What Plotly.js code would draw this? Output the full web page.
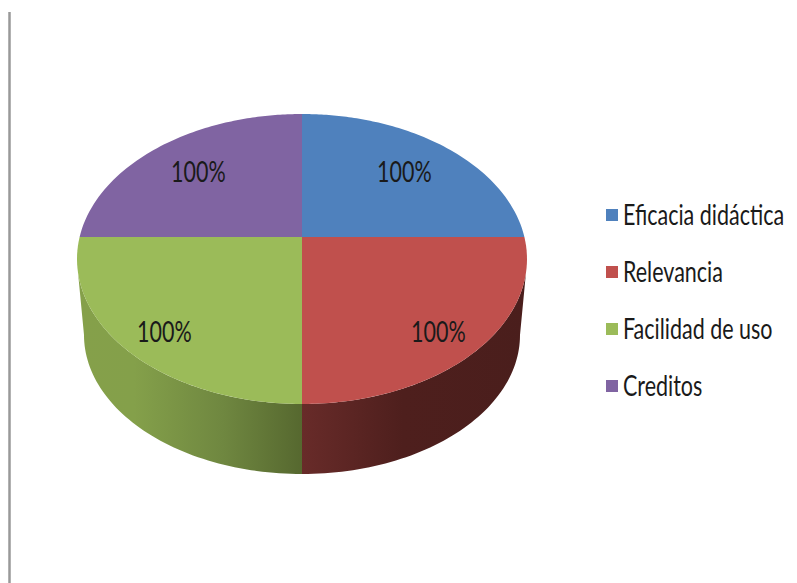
<!DOCTYPE html>
<html>
<head>
<meta charset="utf-8">
<script src="https://cdn.plot.ly/plotly-3.0.1.min.js"></script>
<style>
html,body{margin:0;padding:0;background:#fff}
#chart{width:797px;height:583px}
/* the reference's lettering is stretched upward, like a resized bitmap */
text.annotation-text{transform-box:fill-box;transform-origin:center;transform:scaleY(1.3)}
</style>
</head>
<body>
<div id="chart"></div>
<script>
const categories = ["Eficacia didáctica", "Relevancia", "Facilidad de uso", "Creditos"];
const shares = [25, 25, 25, 25];
const labels = ["100%", "100%", "100%", "100%"];
const topColors = ["#4f81bd", "#c0504d", "#9bbb59", "#8064a2"];
const sideScales = [
  null,
  [[0, "#682b29"], [0.45, "#4e1f1d"], [1, "#4a1e1c"]],
  [[0, "#85a04a"], [0.25, "#84a04a"], [0.65, "#6f8740"], [1, "#56682f"]],
  null
];
const labelX = [404, 438, 164, 198];
const labelY = [171, 331, 331, 171];
const FONT = 'Lato,"Liberation Sans",sans-serif';

// projection of the tilted disc (perspective: the apex sits above the ellipse centre)
const P = {cx: 302, cy: 259, rx: 225, ry: 145, ax: 302, ay: 237,
           lcy: 335, lrx: 218, lry: 139, silhouetteY: 273};

function rayPoint(theta) {           // ray from the apex, clockwise from 12 o'clock
  const dx = Math.sin(theta), dy = -Math.cos(theta);
  const ox = (P.ax - P.cx) / P.rx, oy = (P.ay - P.cy) / P.ry;
  const a = (dx / P.rx) ** 2 + (dy / P.ry) ** 2;
  const b = 2 * (ox * dx / P.rx + oy * dy / P.ry);
  const c = ox * ox + oy * oy - 1;
  const s = (-b + Math.sqrt(b * b - 4 * a * c)) / (2 * a);
  return [P.ax + s * dx, P.ay + s * dy];
}
const ellipseT = p => Math.atan2((p[1] - P.cy) / P.ry, (p[0] - P.cx) / P.rx);

const total = shares.reduce((a, b) => a + b, 0);
const tS = Math.asin((P.silhouetteY - P.cy) / P.ry);
const traces = [], annotations = [];
let cum = 0;
const wedges = shares.map(v => {
  const a0 = cum / total * 2 * Math.PI; cum += v;
  return [a0, cum / total * 2 * Math.PI];
});

// sides first, so the top surface covers them
wedges.forEach(([a0, a1], i) => {
  if (!sideScales[i]) return;
  let t0 = ellipseT(rayPoint(a0)), t1 = ellipseT(rayPoint(a1));
  if (t1 < t0) t1 += 2 * Math.PI;
  t0 = Math.max(t0, tS); t1 = Math.min(t1, Math.PI - tS);
  const xs = [], ys = [], n = 60;
  const lower = t => t <= Math.PI / 2
    ? (t - tS) / (Math.PI / 2 - tS) * Math.PI / 2
    : Math.PI - (Math.PI - tS - t) / (Math.PI / 2 - tS) * Math.PI / 2;
  for (let k = 0; k <= n; k++) {
    const t = t0 + (t1 - t0) * k / n;
    xs.push(P.cx + P.rx * Math.cos(t)); ys.push(P.cy + P.ry * Math.sin(t));
  }
  for (let k = n; k >= 0; k--) {
    const u = lower(t0 + (t1 - t0) * k / n);
    xs.push(P.cx + P.lrx * Math.cos(u)); ys.push(P.lcy + P.lry * Math.sin(u));
  }
  xs.push(xs[0]); ys.push(ys[0]);
  traces.push({type: "scatter", mode: "none", x: xs, y: ys, fill: "toself", hoverinfo: "skip",
    fillgradient: {type: "horizontal", colorscale: sideScales[i]}, showlegend: false});
});

// top surface
wedges.forEach(([a0, a1], i) => {
  const xs = [P.ax], ys = [P.ay], n = 80;
  for (let k = 0; k <= n; k++) {
    const p = rayPoint(a0 + (a1 - a0) * k / n);
    xs.push(p[0]); ys.push(p[1]);
  }
  xs.push(P.ax); ys.push(P.ay);
  traces.push({type: "scatter", mode: "none", x: xs, y: ys, fill: "toself",
    fillcolor: topColors[i], name: categories[i], hoverinfo: "name", showlegend: false});
  annotations.push({x: labelX[i], y: labelY[i], xref: "x", yref: "y", text: labels[i], showarrow: false,
    xanchor: "center", yanchor: "middle", font: {family: FONT, size: 21.5, color: "#1a1a1a"}});
});

// key
const keyX = 612, keyY0 = 215, keyStep = 57;
categories.forEach((c, i) => {
  traces.push({type: "scatter", mode: "markers", x: [keyX], y: [keyY0 + i * keyStep], name: c,
    marker: {symbol: "square", size: 12, color: topColors[i]}, hoverinfo: "name", showlegend: false});
  annotations.push({x: 623, y: keyY0 + i * keyStep - 1, xref: "x", yref: "y", text: c, showarrow: false,
    xanchor: "left", yanchor: "middle", xshift: -2, font: {family: FONT, size: 21.5, color: "#1a1a1a"}});
});

Plotly.newPlot("chart", traces, {
  width: 797, height: 583, margin: {l: 0, r: 0, t: 0, b: 0},
  paper_bgcolor: "#fff", plot_bgcolor: "#fff", showlegend: false,
  xaxis: {range: [0, 797], visible: false, fixedrange: true},
  yaxis: {range: [583, 0], visible: false, fixedrange: true},
  annotations,
  shapes: [{type: "line", xref: "x", yref: "y", x0: 9.5, x1: 9.5, y0: 12, y1: 583,
            line: {color: "#999999", width: 2.5}}]
}, {displayModeBar: false, staticPlot: true});
</script>
</body>
</html>
